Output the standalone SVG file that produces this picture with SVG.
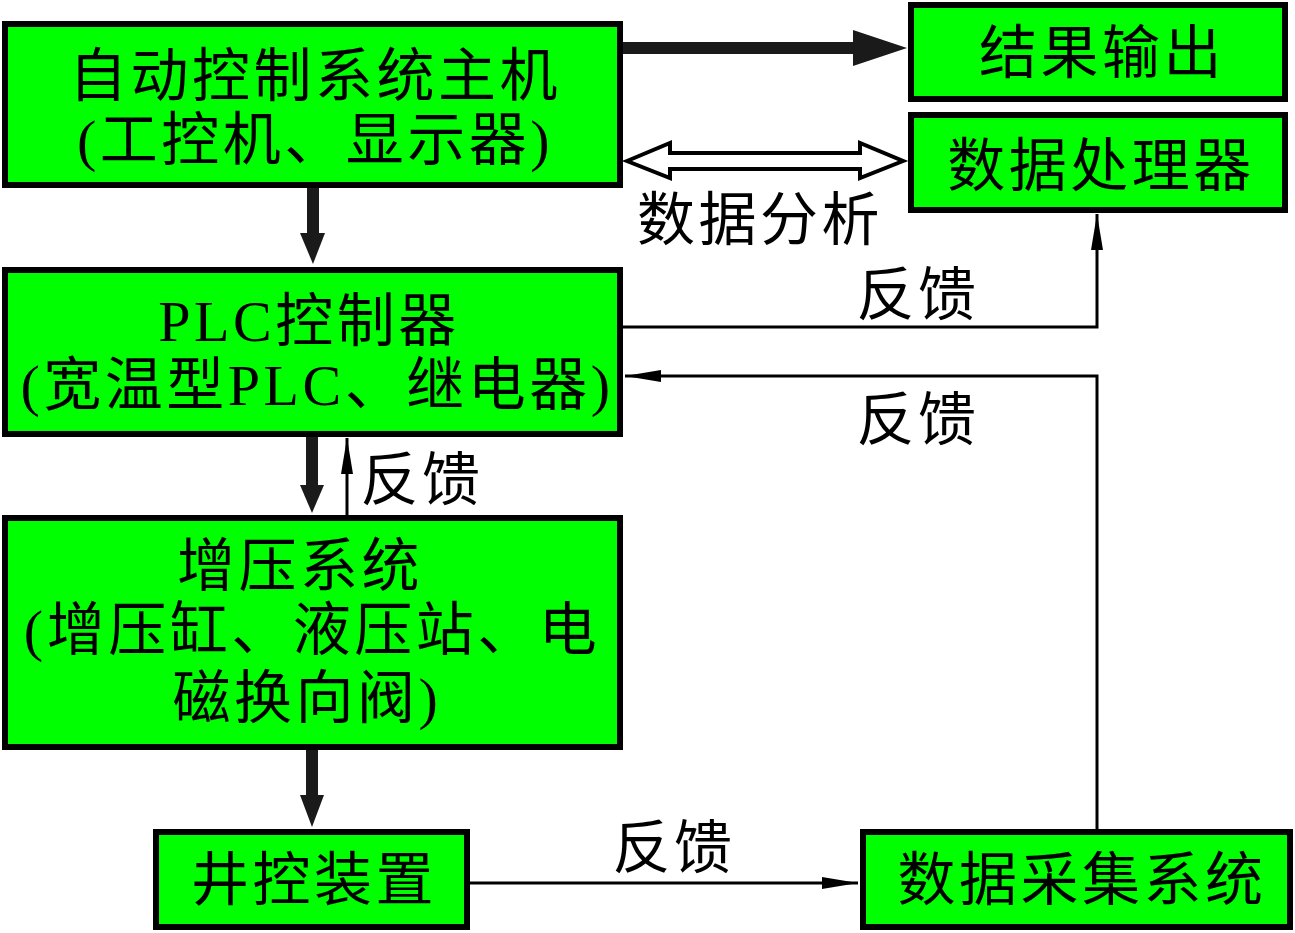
<svg xmlns="http://www.w3.org/2000/svg" width="1295" height="933" viewBox="0 0 1295 933">
<style>
.box{fill:#00ff00;stroke:#000;stroke-width:6}
.t{font-family:"Liberation Serif","Noto Sans CJK SC",serif;font-size:58px;fill:#000;text-anchor:middle;letter-spacing:3.5px}
.thin{stroke:#000;stroke-width:3;fill:none}
.thick{stroke:#1a1a1a;stroke-width:12;fill:none}
</style>
<defs>
<marker id="sa" markerUnits="userSpaceOnUse" viewBox="0 0 36 12" markerWidth="36" markerHeight="12" refX="36" refY="6" orient="auto"><path d="M0,0 L36,6 L0,12 Z" fill="#000"/></marker>
</defs>
<rect width="1295" height="933" fill="#fff"/>
<g id="n1"><rect class="box" x="5" y="24" width="615" height="161"/><text class="t" x="315" y="96">自动控制系统主机</text><text class="t" x="315" y="160">(工控机、显示器)</text></g>
<g id="n2"><rect class="box" x="5" y="270" width="615" height="164"/><text class="t" x="309" y="341">PLC控制器</text><text class="t" x="317" y="405">(宽温型PLC、继电器)</text></g>
<g id="n3"><rect class="box" x="5" y="518" width="615" height="229"/><text class="t" x="300" y="586">增压系统</text><text class="t" x="312" y="650">(增压缸、液压站、电</text><text class="t" x="307" y="718">磁换向阀)</text></g>
<g id="n4"><rect class="box" x="156" y="832" width="311" height="95"/><text class="t" x="314" y="900">井控装置</text></g>
<g id="n5"><rect class="box" x="863" y="832" width="427" height="95"/><text class="t" x="1082" y="900">数据采集系统</text></g>
<g id="n6"><rect class="box" x="911" y="5" width="374" height="94"/><text class="t" x="1102" y="73">结果输出</text></g>
<g id="n7"><rect class="box" x="911" y="115" width="374" height="95"/><text class="t" x="1101" y="186">数据处理器</text></g>
<g id="connectors">
<line class="thick" x1="623" y1="48" x2="856" y2="48" stroke-width="14"/>
<path d="M853,30 L907,48 L853,66 Z" fill="#1a1a1a"/>
<path d="M627,161 L670,143 L670,153 L860,153 L860,143 L903,161 L860,178 L860,169 L670,169 L670,178 Z" fill="#fff" stroke="#000" stroke-width="4" stroke-linejoin="miter"/>
<line class="thick" x1="313" y1="188" x2="313" y2="236"/>
<path d="M300,233 L325,233 L313,264 Z" fill="#1a1a1a"/>
<line class="thick" x1="312" y1="437" x2="312" y2="488"/>
<path d="M300,485 L324,485 L312,513 Z" fill="#1a1a1a"/>
<line class="thin" x1="347" y1="515" x2="347" y2="438" marker-end="url(#sa)"/>
<line class="thick" x1="312" y1="750" x2="312" y2="798"/>
<path d="M300,795 L324,795 L312,827 Z" fill="#1a1a1a"/>
<polyline class="thin" points="623,327 1097,327 1097,214" marker-end="url(#sa)"/>
<polyline class="thin" points="1097,830 1097,376 625,376" marker-end="url(#sa)"/>
<line class="thin" x1="470" y1="883" x2="858" y2="883" marker-end="url(#sa)"/>
<text class="t" x="760" y="240">数据分析</text>
<text class="t" x="422" y="500">反馈</text>
<text class="t" x="918" y="315">反馈</text>
<text class="t" x="918" y="440">反馈</text>
<text class="t" x="674" y="868">反馈</text>
</g>
</svg>
